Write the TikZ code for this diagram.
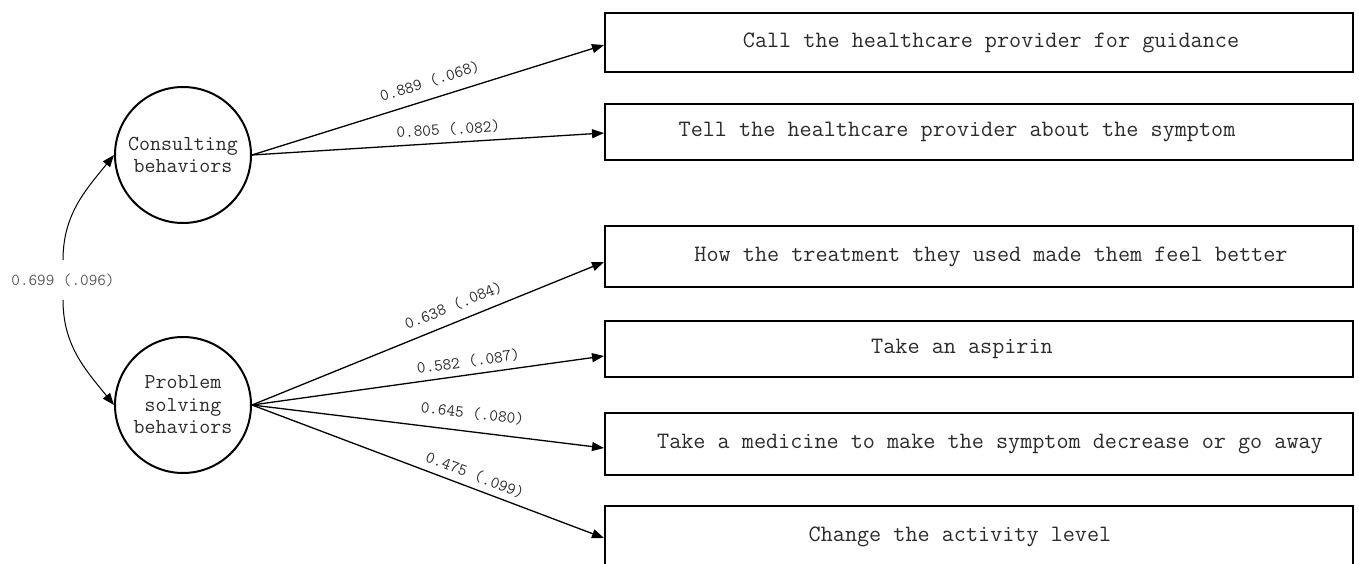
\documentclass[tikz,border=0pt]{standalone}
\usepackage{xcolor}
\usepackage{tikz}
\usetikzlibrary{arrows.meta}
\definecolor{ink}{HTML}{000000}
\definecolor{txt}{HTML}{2B2B2B}
\definecolor{muted}{HTML}{5A5A5A}
\tikzset{
  factor/.style={draw=ink, circle, line width=2pt, minimum size=136pt, inner sep=0pt, align=center, text=txt, font=\fontsize{21.3}{22.5}\selectfont\ttfamily},
  item/.style={draw=ink, rectangle, line width=2pt, minimum width=748pt, inner sep=0pt},
  itemtext/.style={text=txt, font=\fontsize{23.5}{26}\selectfont\ttfamily},
  load/.style={draw=ink, line width=1.3pt, -{Triangle[length=12pt,width=9pt]}},
  cov/.style={draw=ink, line width=1pt, -{Triangle[length=12pt,width=9pt]}},
  lab/.style={text=txt, font=\fontsize{16.8}{18}\selectfont\ttfamily, inner sep=2pt},
  labm/.style={text=muted, font=\fontsize{16.7}{18}\selectfont\ttfamily},
}

\begin{document}
\begin{tikzpicture}[x=1pt, y=1pt]
  \useasboundingbox (0,0) rectangle (1359,563);

  % latent factors
  \node[factor] (cons) at (183,408) {Consulting\\behaviors};
  \node[factor] (prob) at (183,158) {Problem\\solving\\behaviors};

  % observed items
  \node[item, minimum height=59pt, label={[itemtext, xshift=12pt]center:Call the healthcare provider for guidance}] (o1) at (979,520.5) {};
  \node[item, minimum height=56pt, label={[itemtext, xshift=-22pt]center:Tell the healthcare provider about the symptom}] (o2) at (979,431) {};
  \node[item, minimum height=61pt, label={[itemtext, xshift=12pt]center:How the treatment they used made them feel better}] (o3) at (979,306.5) {};
  \node[item, minimum height=56pt, label={[itemtext, xshift=-17pt]center:Take an aspirin}] (o4) at (979,214) {};
  \node[item, minimum height=62pt, label={[itemtext, xshift=11pt]center:Take a medicine to make the symptom decrease or go away}] (o5) at (979,119) {};
  \node[item, minimum height=62pt, label={[itemtext, xshift=-19pt]center:Change the activity level}] (o6) at (979,26) {};

  % loadings
  \draw[load] (cons.east) -- node[lab, pos=0.52, sloped, above=8pt] {0.889 (.068)} ([yshift=-2.5pt]o1.west);
  \draw[load] (cons.east) -- node[lab, pos=0.56, sloped, above=4pt] {0.805 (.082)} ([yshift=-1pt]o2.west);
  \draw[load] (prob.east) -- node[lab, pos=0.59, sloped, above=7pt] {0.638 (.084)} ([yshift=-5.5pt]o3.west);
  \draw[load] (prob.east) -- node[lab, pos=0.62, sloped, above=4pt] {0.582 (.087)} ([yshift=-7pt]o4.west);
  \draw[load] (prob.east) -- node[lab, pos=0.62, sloped, above=9pt] {0.645 (.080)} ([yshift=-4pt]o5.west);
  \draw[load] (prob.east) -- node[lab, pos=0.62, sloped, above=4pt] {0.475 (.099)} ([yshift=-1pt]o6.west);

  % factor correlation
  \node[labm, outer ysep=10pt] (corr) at (63,283) {0.699 (.096)};
  \draw[cov] (corr.north) to[out=90, in=231] (cons.west);
  \draw[cov] (corr.south) to[out=-90, in=129] (prob.west);
\end{tikzpicture}
\end{document}
